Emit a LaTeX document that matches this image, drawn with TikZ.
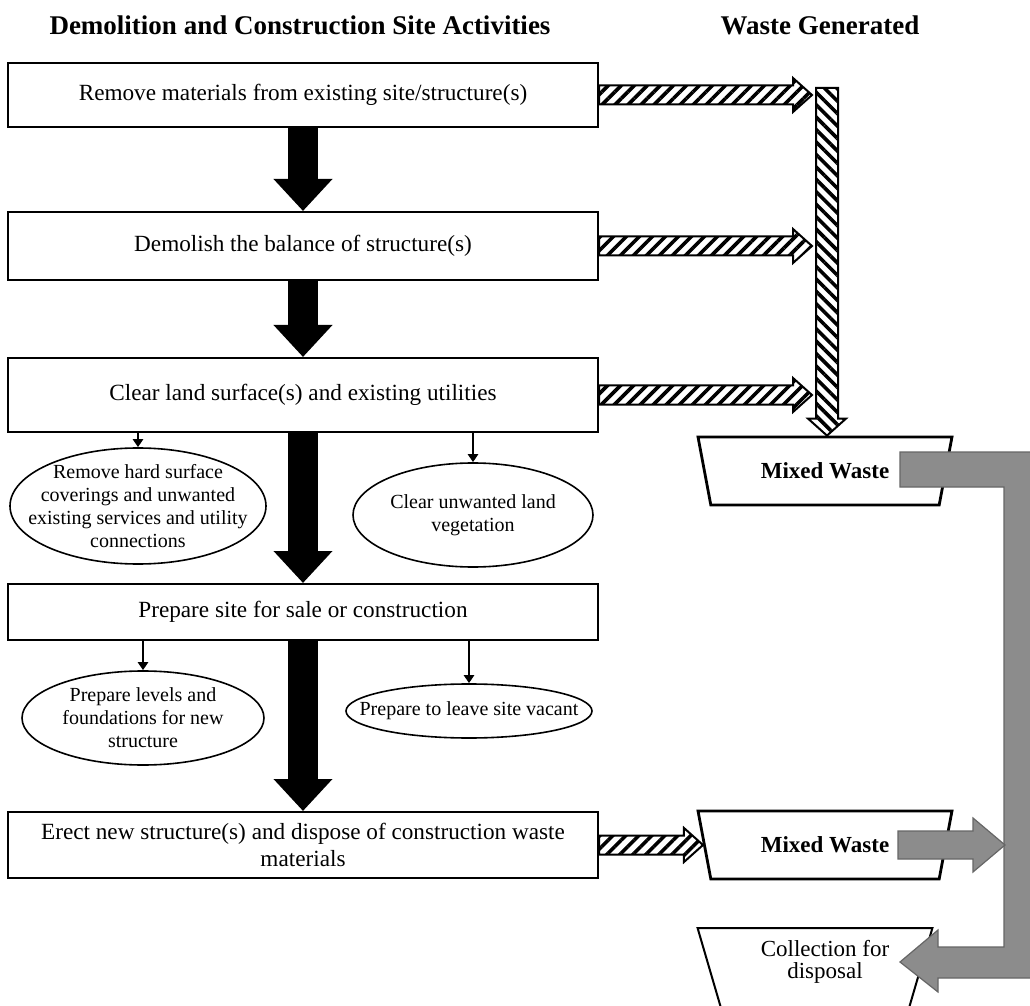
\documentclass[tikz,border=0pt]{standalone}
\usepackage{fontspec}
\setmainfont{Liberation Serif}
\usetikzlibrary{arrows.meta,shapes.geometric,patterns.meta,calc}

\tikzset{
	actbox/.style={draw,line width=1pt,minimum width=295pt,align=center,font=\fontsize{11.6}{13.5}\selectfont},
	subact/.style={draw,ellipse,line width=0.8pt,align=center,inner sep=-20pt,font=\fontsize{10}{11.5}\selectfont},
	bigarr/.style={line width=15pt,-{Triangle[width=28.5pt,length=16pt]}},
	smallarr/.style={line width=1pt,-{Triangle[width=5pt,length=4pt]}},
	wastebox/.style={draw,line width=1.4pt,trapezium,trapezium left angle=75,trapezium right angle=75,
		shape border rotate=180,trapezium stretches=true,minimum width=128pt,minimum height=34pt},
	hatchright/.style={draw,line width=1pt,pattern={Lines[angle=45,distance=4.6pt,line width=1.8pt]}},
	hatchdown/.style={draw,line width=1pt,pattern={Lines[angle=-45,distance=4.4pt,line width=1.8pt]}},
	greyfill/.style={draw=black!60,fill=black!45,line width=0.6pt}
}

% hatched waste arrow, start and end on one level
\newcommand{\hatcharrow}[2]{%
	\path[hatchright] let \p1=(#1), \p2=(#2) in
		(\x1,\y1+4.75pt) -- (\x2-9.5pt,\y1+4.75pt) -- (\x2-9.5pt,\y1+8.5pt) -- (\x2,\y1)
		-- (\x2-9.5pt,\y1-8.5pt) -- (\x2-9.5pt,\y1-4.75pt) -- (\x1,\y1-4.75pt) -- cycle;}

\begin{document}
\begin{tikzpicture}[x=0.5pt,y=-0.5pt,line join=miter]
	\useasboundingbox (0,0) rectangle (1030,1006);
	\clip (0,0) rectangle (1030,1006);

	% headings
	\node[font=\bfseries\fontsize{13.5}{15}\selectfont] (hleft) at (300,25) {Demolition and Construction Site Activities};
	\node[font=\bfseries\fontsize{13.5}{15}\selectfont] (hright) at (820,25) {Waste Generated};

	% site activities
	\node[actbox,minimum height=32pt] (b1) at (303,95) {Remove materials from existing site/structure(s)};
	\node[actbox,minimum height=34pt] (b2) at (303,246) {Demolish the balance of structure(s)};
	\node[actbox,minimum height=37pt] (b3) at (303,395) {Clear land surface(s) and existing utilities};
	\node[subact,minimum width=128pt,minimum height=58pt] (e1) at (138,506) {Remove hard surface\\coverings and unwanted\\existing services and utility\\connections};
	\node[subact,minimum width=120pt,minimum height=52pt] (e2) at (473,515) {Clear unwanted land\\vegetation};
	\node[actbox,minimum height=28pt] (b4) at (303,612) {Prepare site for sale or construction};
	\node[subact,minimum width=121pt,minimum height=47pt] (e3) at (143,718) {Prepare levels and\\foundations for new\\structure};
	\node[subact,minimum width=123pt,minimum height=27pt] (e4) at (469,711) {Prepare to leave site vacant};
	\node[actbox,minimum height=33pt] (b5) at (303,845) {Erect new structure(s) and dispose of construction waste\\materials};

	\draw[bigarr] (b1.south) -- (b2.north);
	\draw[bigarr] (b2.south) -- (b3.north);
	\draw[bigarr] (b3.south) -- (b4.north);
	\draw[bigarr] (b4.south) -- (b5.north);

	\draw[smallarr] (b3.south -| e1.north) -- (e1.north);
	\draw[smallarr] (b3.south -| e2.north) -- (e2.north);
	\draw[smallarr] (b4.south -| e3.north) -- (e3.north);
	\draw[smallarr] (b4.south -| e4.north) -- (e4.north);

	% waste generated
	\node[wastebox,font=\bfseries\fontsize{11.5}{13}\selectfont] (mw1) at (825,471) {Mixed Waste};
	\node[wastebox,font=\bfseries\fontsize{11.5}{13}\selectfont] (mw2) at (825,845) {Mixed Waste};
	\node[wastebox,line width=1pt,minimum width=117.5pt,minimum height=70pt] (coll) at (815,998) {};
	\node[align=center,font=\fontsize{11.5}{11}\selectfont] (colltxt) at (825,962) {Collection for\\disposal};

	\coordinate (bartop) at (827,88);
	\path[hatchdown] let \p1=(bartop), \p2=(mw1.north) in
		(\x1-5.5pt,\y1) -- (\x1+5.5pt,\y1) -- (\x1+5.5pt,\y2+8.5pt) -- (\x1+9.5pt,\y2+8.5pt) -- (\x1,\y2)
		-- (\x1-9.5pt,\y2+8.5pt) -- (\x1-5.5pt,\y2+8.5pt) -- cycle;
	\hatcharrow{b1.east}{$(b1.east -| bartop)+(-7.5pt,0)$}
	\hatcharrow{b2.east}{$(b2.east -| bartop)+(-7.5pt,0)$}
	\hatcharrow{b3.east}{$(b3.east -| bartop)+(-7.5pt,0)$}
	\hatcharrow{b5.east}{mw2.west}

	% grey flow to collection
	\draw[greyfill] (900,452) -- (1040,452) -- (1040,978) -- (938,978) -- (938,992) -- (900,962)
		-- (938,930) -- (938,947) -- (1004,947) -- (1004,487) -- (900,487) -- cycle;
	\draw[greyfill] (898,831) -- (973,831) -- (973,818) -- (1005,845) -- (973,872) -- (973,859) -- (898,859) -- cycle;
\end{tikzpicture}
\end{document}
